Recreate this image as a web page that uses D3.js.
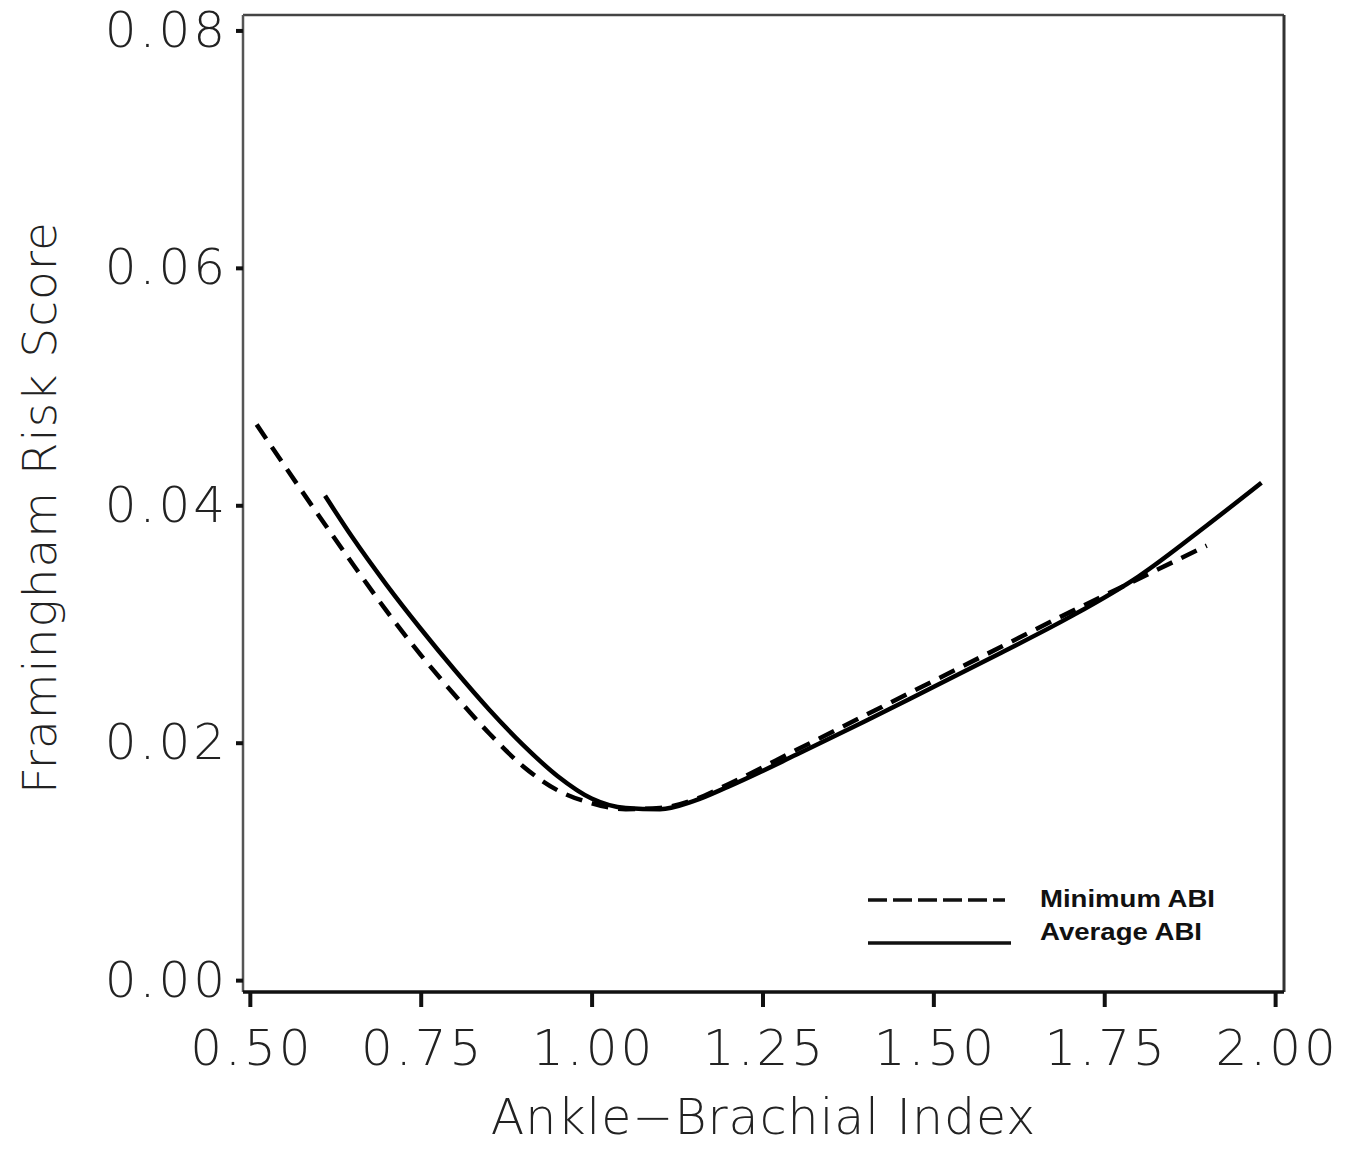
<!DOCTYPE html>
<html>
	<head>
		<title>ABI vs Framingham Risk Score</title>
		<style>
			body, html {
				margin: 0;
				padding: 0;
				background: #fff;
			}

			.tick-label {
				font-family: 'DejaVu Sans', sans-serif;
				font-weight: 300;
				font-size: 50px;
				letter-spacing: 3px;
				fill: #222;
			}

			.axis-title {
				font-family: 'DejaVu Sans', sans-serif;
				font-weight: 300;
				font-size: 49px;
				letter-spacing: 1px;
				fill: #222;
			}

			.legend text {
				font-family: 'Liberation Sans', Arial, sans-serif;
				font-weight: bold;
				font-size: 23px;
				fill: #111;
			}

			.curve {
				fill: none;
				stroke: #000;
				stroke-width: 4.5px;
				stroke-linejoin: round;
			}
		</style>
	</head>
	<body>

		<svg id="svg" width="1352" height="1149"></svg>

		<script src="https://d3js.org/d3.v7.min.js"></script>
		<script>
			// Data
			// Minimum ABI (dashed)
			const minAbiX = [0.51, 0.55, 0.60, 0.65, 0.70, 0.75, 0.80, 0.85, 0.90, 0.95, 1.00, 1.05, 1.10, 1.15, 1.20, 1.30, 1.40, 1.50, 1.60, 1.70, 1.80, 1.90]
			const minAbiY = [0.0468, 0.0434, 0.0392, 0.0351, 0.0311, 0.0274, 0.0240, 0.0208, 0.0180, 0.0160, 0.0149, 0.0144, 0.0145, 0.0152, 0.0165, 0.0194, 0.0223, 0.0252, 0.0281, 0.0310, 0.0338, 0.0366]

			// Average ABI (solid)
			const avgAbiX = [0.61, 0.65, 0.70, 0.75, 0.80, 0.85, 0.90, 0.95, 1.00, 1.05, 1.10, 1.15, 1.20, 1.30, 1.40, 1.50, 1.60, 1.70, 1.80, 1.90, 1.98]
			const avgAbiY = [0.0408, 0.0373, 0.0333, 0.0296, 0.0261, 0.0228, 0.0198, 0.0172, 0.0153, 0.0145, 0.0144, 0.0151, 0.0163, 0.0190, 0.0218, 0.0247, 0.0276, 0.0306, 0.0340, 0.0383, 0.0419]

			const xTicks = [0.50, 0.75, 1.00, 1.25, 1.50, 1.75, 2.00]
			const yTicks = [0.00, 0.02, 0.04, 0.06, 0.08]

			const seriesNames = ['Minimum ABI', 'Average ABI']

			// Plot frame in pixels
			const frame = { left: 243, right: 1284, top: 15, bottom: 992 }

			// scales - the domain runs a bit past the ticks like the original
			const x = d3.scaleLinear()
				.domain([0.49, 2.013])
				.range([frame.left, frame.right])

			const y = d3.scaleLinear()
				.domain([-0.001, 0.0813])
				.range([frame.bottom, frame.top])

			const svg = d3.select('#svg')

			// frame
			svg.append('line')
				.attr('x1', frame.left).attr('x2', frame.right)
				.attr('y1', frame.top).attr('y2', frame.top)
				.style('stroke', '#444').style('stroke-width', 2.5)
			svg.append('line')
				.attr('x1', frame.right).attr('x2', frame.right)
				.attr('y1', frame.top).attr('y2', frame.bottom)
				.style('stroke', '#333').style('stroke-width', 3)
			svg.append('line')
				.attr('x1', frame.left).attr('x2', frame.left)
				.attr('y1', frame.top).attr('y2', frame.bottom)
				.style('stroke', '#555').style('stroke-width', 2.5)

			// x axis
			const xAxis = svg.append('g')
				.attr('transform', `translate(0, ${frame.bottom})`)
				.call(d3.axisBottom(x)
					.tickValues(xTicks)
					.tickSize(15)
					.tickPadding(22)
					.tickFormat(d3.format('.2f')))
			xAxis.select('.domain')
				.attr('d', `M${frame.left},0H${frame.right}`)
				.style('stroke', '#111').style('stroke-width', 3.5)
			xAxis.selectAll('.tick line').style('stroke', '#111').style('stroke-width', 4)
			xAxis.selectAll('.tick text').attr('class', 'tick-label')
				.attr('dx', '1.5px')

			// y axis
			const yAxis = svg.append('g')
				.attr('transform', `translate(${frame.left}, 0)`)
				.call(d3.axisLeft(y)
					.tickValues(yTicks)
					.tickSize(7)
					.tickPadding(8)
					.tickFormat(d3.format('.2f')))
			yAxis.select('.domain').remove()
			yAxis.selectAll('.tick line').style('stroke', '#111').style('stroke-width', 4)
			yAxis.selectAll('.tick text').attr('class', 'tick-label')

			// clean d3 defaults so CSS wins
			svg.selectAll('g').attr('font-size', null).attr('font-family', null)

			// axis titles
			svg.append('text')
				.attr('class', 'axis-title')
				.attr('text-anchor', 'middle')
				.attr('transform', `translate(56, ${(frame.top + frame.bottom) / 2 + 4}) rotate(-90)`)
				.style('font-size', '47px')
				.text('Framingham Risk Score')

			// kept just inside the bottom edge
			svg.append('text')
				.attr('class', 'axis-title')
				.attr('text-anchor', 'middle')
				.attr('x', (frame.left + frame.right) / 2)
				.attr('y', 1134)
				.text('Ankle\u2212Brachial Index')

			// curves
			const line = d3.line()
				.x(d => x(d[0]))
				.y(d => y(d[1]))
				.curve(d3.curveMonotoneX)

			const minData = d3.zip(minAbiX, minAbiY)
			const avgData = d3.zip(avgAbiX, avgAbiY)

			svg.append('path')
				.datum(avgData)
				.attr('class', 'curve')
				.attr('d', line)

			svg.append('path')
				.datum(minData)
				.attr('class', 'curve')
				.style('stroke-dasharray', '17 10')
				.attr('d', line)

			// legend
			const legend = svg.append('g')
				.attr('class', 'legend')
				.attr('transform', `translate(${frame.right - 416}, 899)`)

			const legendRows = [
				{ name: seriesNames[0], dash: '19 6', dy: 0, lineDy: 1, len: 137 },
				{ name: seriesNames[1], dash: null, dy: 33, lineDy: 44, len: 143 }
			]

			legendRows.forEach(row => {
				legend.append('line')
					.attr('x1', 0).attr('x2', row.len)
					.attr('y1', row.lineDy).attr('y2', row.lineDy)
					.style('stroke', '#111')
					.style('stroke-width', 3.5)
					.style('stroke-dasharray', row.dash)
				legend.append('text')
					.attr('x', 172)
					.attr('y', row.dy)
					.attr('dy', '0.35em')
					.attr('textLength', row.name === 'Minimum ABI' ? 175 : 162)
					.attr('lengthAdjust', 'spacingAndGlyphs')
					.text(row.name)
			})
		</script>
	</body>
</html>
